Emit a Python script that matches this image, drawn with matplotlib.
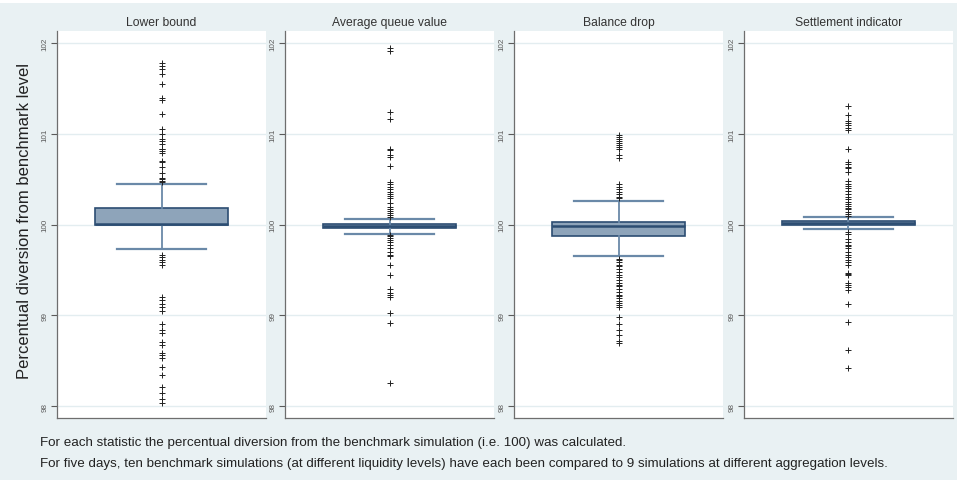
import matplotlib.pyplot as plt
from matplotlib.patches import Rectangle

plt.rcParams["font.family"] = ["Liberation Sans", "DejaVu Sans"]

# ── Data: box statistics per statistic (percent of benchmark = 100) ──────────
panel_titles = ["Lower bound", "Average queue value", "Balance drop", "Settlement indicator"]

q1_vals     = [100.00, 99.96, 99.88, 100.00]
median_vals = [100.01, 99.985, 99.985, 100.015]
q3_vals     = [100.18, 100.01, 100.03, 100.04]
whislo_vals = [99.735, 99.90, 99.655, 99.95]
whishi_vals = [100.45, 100.065, 100.265, 100.09]

fliers_lower_bound = [
    101.78, 101.75, 101.72, 101.66, 101.55, 101.40, 101.38, 101.22, 101.06, 101.00,
    100.94, 100.92, 100.89, 100.84, 100.83, 100.81, 100.79, 100.70, 100.69, 100.64,
    100.57, 100.52, 100.50, 100.48, 100.47,
    99.67, 99.64, 99.61, 99.59, 99.55, 99.20, 99.17, 99.12, 99.09, 99.05,
    98.90, 98.84, 98.81, 98.71, 98.67, 98.59, 98.56, 98.53, 98.43, 98.34,
    98.21, 98.14, 98.08, 98.03,
]
fliers_avg_queue = [
    101.95, 101.92, 101.24, 101.16, 100.84, 100.82, 100.77, 100.75, 100.65, 100.47,
    100.45, 100.42, 100.39, 100.36, 100.34, 100.32, 100.29, 100.24, 100.20, 100.17,
    100.15, 100.13, 100.11, 100.08,
    99.89, 99.87, 99.85, 99.83, 99.81, 99.78, 99.74, 99.70, 99.67, 99.66,
    99.56, 99.44, 99.29, 99.25, 99.22, 99.20, 99.03, 98.92, 98.25,
]
fliers_balance_drop = [
    100.99, 100.97, 100.95, 100.92, 100.90, 100.88, 100.86, 100.84, 100.77, 100.74,
    100.45, 100.42, 100.39, 100.36, 100.34, 100.31, 100.29,
    99.62, 99.61, 99.59, 99.56, 99.54, 99.51, 99.48, 99.45, 99.42, 99.39,
    99.36, 99.34, 99.32, 99.29, 99.26, 99.23, 99.21, 99.19, 99.16, 99.14,
    99.11, 99.09, 98.98, 98.90, 98.84, 98.78, 98.72, 98.70,
]
fliers_settlement = [
    101.31, 101.21, 101.14, 101.12, 101.10, 101.07, 101.04, 100.84, 100.69, 100.67,
    100.64, 100.62, 100.58, 100.48, 100.45, 100.43, 100.40, 100.37, 100.34, 100.31,
    100.28, 100.25, 100.23, 100.21, 100.18, 100.17, 100.14, 100.12, 100.10,
    99.92, 99.90, 99.84, 99.81, 99.78, 99.76, 99.74, 99.70, 99.67, 99.64,
    99.61, 99.59, 99.56, 99.47, 99.46, 99.44, 99.36, 99.34, 99.31, 99.28,
    99.13, 98.93, 98.62, 98.42,
]
flier_sets = [fliers_lower_bound, fliers_avg_queue, fliers_balance_drop, fliers_settlement]

y_ticks = [98, 99, 100, 101, 102]

footnote_1 = ("For each statistic the percentual diversion from the benchmark "
              "simulation (i.e. 100) was calculated.")
footnote_2 = ("For five days, ten benchmark simulations (at different liquidity levels) "
              "have each been compared to 9 simulations at different aggregation levels.")

# ── Styling ──────────────────────────────────────────────────────────────────
bg_col     = "#e9f1f3"
grid_col   = "#e3edf0"
box_fill   = "#8ea4ba"
box_edge   = "#2c4d72"
whisk_col  = "#6a89a8"
tick_col   = "#5a5a5a"

W, H = 957, 481
fig = plt.figure(figsize=(W / 100, H / 100), dpi=100, facecolor=bg_col)
fig.add_artist(Rectangle((0, 1 - 4 / H), 1, 4 / H, transform=fig.transFigure,
                         facecolor="white", edgecolor="none"))

panel_left = [57, 285, 514, 744]
panel_w = 209
ax_top, ax_bot = 32, 419

for i, title in enumerate(panel_titles):
    ax = fig.add_axes([panel_left[i] / W, 1 - ax_bot / H, panel_w / W, (ax_bot - ax_top) / H])
    ax.set_facecolor("white")

    stats = [{
        "q1": q1_vals[i], "med": median_vals[i], "q3": q3_vals[i],
        "whislo": whislo_vals[i], "whishi": whishi_vals[i],
        "fliers": flier_sets[i],
    }]
    ax.bxp(
        stats, positions=[1], widths=0.636, capwidths=0.426,
        patch_artist=True, showfliers=True,
        boxprops=dict(facecolor=box_fill, edgecolor=box_edge, linewidth=1.2),
        medianprops=dict(color=box_edge, linewidth=1.8),
        whiskerprops=dict(color=whisk_col, linewidth=1.3),
        capprops=dict(color=whisk_col, linewidth=1.6),
        flierprops=dict(marker="+", markersize=5, markeredgewidth=0.7,
                        markeredgecolor="#222222", linestyle="none"),
        zorder=3,
    )

    ax.set_xlim(0.5, 1.5)
    ax.set_ylim(97.868, 102.136)
    ax.set_xticks([])
    ax.set_yticks(y_ticks)
    ax.set_yticklabels([str(t) for t in y_ticks], rotation=90, va="center",
                       fontsize=5.8, color=tick_col)
    ax.tick_params(axis="y", direction="out", length=4, width=0.8, color=tick_col, pad=2)
    ax.grid(axis="y", color=grid_col, linewidth=1.0, zorder=0)
    ax.set_axisbelow(True)

    for side in ("top", "right"):
        ax.spines[side].set_visible(False)
    for side in ("left", "bottom"):
        ax.spines[side].set_color("#6e6e6e")
        ax.spines[side].set_linewidth(0.9)

    ax.set_title(title, fontsize=8.7, color="#333333", pad=4)

fig.text(25 / W, 1 - 221 / H, "Percentual diversion from benchmark level",
         rotation=90, ha="center", va="center", fontsize=12, color="#222222")

fig.text(40 / W, 1 - 443 / H, footnote_1, ha="left", va="center", fontsize=9.6, color="#222222")
fig.text(40 / W, 1 - 464 / H, footnote_2, ha="left", va="center", fontsize=9.6, color="#222222")

fig.savefig("out.png", dpi=100, facecolor=bg_col)
